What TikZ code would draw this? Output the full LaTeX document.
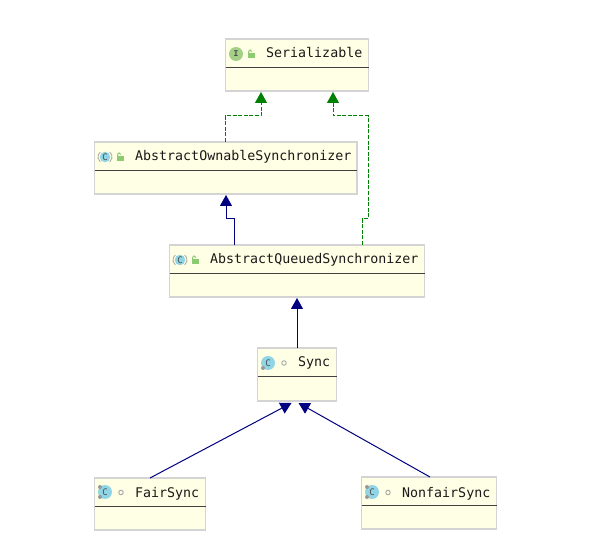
\documentclass[tikz,border=0pt]{standalone}
\usepackage{fontspec}
\usepackage{tikz}
\usetikzlibrary{arrows.meta,positioning}
\newfontfamily\umlfont{DejaVu Sans Mono}
\definecolor{boxfill}{HTML}{FFFFE6}
\definecolor{boxline}{HTML}{D4D4D4}
\definecolor{implgreen}{HTML}{008000}
\definecolor{extnavy}{HTML}{000080}
\definecolor{ifacefill}{HTML}{A3CF86}
\definecolor{classfill}{HTML}{8FD5E6}
\definecolor{lockgreen}{HTML}{8CCB72}

\begin{document}
\begin{tikzpicture}[
  x=1pt, y=-1pt,
  box/.style={draw=boxline, fill=boxfill, line width=1.2pt, outer sep=0pt, inner sep=0pt, minimum height=52pt},
  title/.style={anchor=base west, inner sep=0pt, text=black!90, font=\umlfont\fontsize{13.3}{15}\selectfont},
  iface/.style={circle, fill=ifacefill, minimum size=14pt, inner sep=0pt, text=black!70, font=\umlfont\bfseries\fontsize{8}{8}\selectfont},
  cls/.style={circle, fill=classfill, minimum size=14pt, inner sep=0pt, text=black!70, font=\umlfont\fontsize{9}{9}\selectfont},
  abscls/.style={cls, minimum size=10.5pt},
  lockbody/.style={fill=lockgreen, minimum width=7pt, minimum height=5.5pt, inner sep=0pt},
  vis/.style={circle, draw=black!35, line width=0.9pt, minimum size=4.5pt, inner sep=0pt},
  gear/.style={circle, fill=black!40, minimum size=4pt, inner sep=0pt},
  impl/.style={implgreen, line width=1pt, dash pattern=on 4pt off 1.6pt, -{Triangle[length=11pt,width=12pt]}},
  ext/.style={extnavy, line width=1pt, -{Triangle[length=11pt,width=12pt]}},
  lockicon/.pic={
    \node[lockbody] at (0.5,1.5) {};
    \draw[lockgreen, line width=1pt] (-2.5,1) -- (-2.5,-2.5) arc[start angle=180, end angle=0, radius=1.6pt];
  },
  absmark/.pic={
    \draw[black!35, line width=0.8pt] (-4.7,-5) arc[start angle=130, end angle=230, radius=6.5pt];
    \draw[black!35, line width=0.8pt] (4.7,-5) arc[start angle=50, end angle=-50, radius=6.5pt];
  }
]
\useasboundingbox (0,0) rectangle (595,553);

\node[box, minimum width=143pt] (ser) at (297,65) {};
\node[box, minimum width=262.5pt] (aos) at (225.75,168) {};
\node[box, minimum width=255pt] (aqs) at (297,271) {};
\node[box, minimum width=79pt, minimum height=53pt] (sync) at (297,374.5) {};
\node[box, minimum width=111pt] (fair) at (150,504) {};
\node[box, minimum width=135pt] (nonfair) at (429,503) {};

% header lines
\foreach \n in {ser,aos,aqs,sync,fair,nonfair}
  \draw[black!75, line width=0.9pt] ([yshift=-28pt]\n.north west) -- ([yshift=-28pt]\n.north east);

\node[title] (sertxt) at (266,58) {Serializable};
\node[title] (aostxt) at (135,161) {AbstractOwnableSynchronizer};
\node[title] (aqstxt) at (210,264) {AbstractQueuedSynchronizer};
\node[title] (synctxt) at (298,367) {Sync};
\node[title] (fairtxt) at (135,497) {FairSync};
\node[title] (nonfairtxt) at (402,497) {NonfairSync};

% icons
\node[iface] (sericon) at (236,54) {I};
\pic at (251,54) {lockicon};
\node[abscls] (aosicon) at (105,157) {C};
\pic at (105,157) {absmark};
\pic at (120,157) {lockicon};
\node[abscls] (aqsicon) at (180,260) {C};
\pic at (180,260) {absmark};
\pic at (195,260) {lockicon};
\node[cls] (syncicon) at (268,363) {C};
\node[gear] (syncgear) at (263,368) {};
\node[vis] (syncvis) at (284,363) {};
\node[cls] (faicon) at (105,492) {C};
\node[gear] (fairgear) at (100,487) {};
\node[gear] (fairgearb) at (100,497) {};
\node[vis] (fairvis) at (121,492.5) {};
\node[cls] (nonfairicon) at (372,492) {C};
\node[gear] (nonfairgear) at (367,487) {};
\node[gear] (nonfairgearb) at (367,497) {};
\node[vis] (nonfairvis) at (388,492.5) {};

% connectors
\draw[impl] ([xshift=-0.75pt]aos.north) -- ++(0,-26) -| ([xshift=-36pt,yshift=-1pt]ser.south);
\draw[impl] ([xshift=65pt]aqs.north) -- ++(0,-26) -- ++(6,0) -- ++(0,-103) -| ([xshift=36pt,yshift=-1pt]ser.south);
\draw[ext] ([xshift=-63pt]aqs.north) -- ++(0,-26) -| ([xshift=0.25pt,yshift=-1pt]aos.south);
\draw[ext] (sync) -- ([yshift=-1pt]aqs.south);
\draw[ext] ([xshift=0pt]fair.north) -- ([xshift=-5.5pt,yshift=-2pt]sync.south);
\draw[ext] ([xshift=1pt]nonfair.north) -- ([xshift=1.5pt,yshift=-2pt]sync.south);
\end{tikzpicture}
\end{document}
